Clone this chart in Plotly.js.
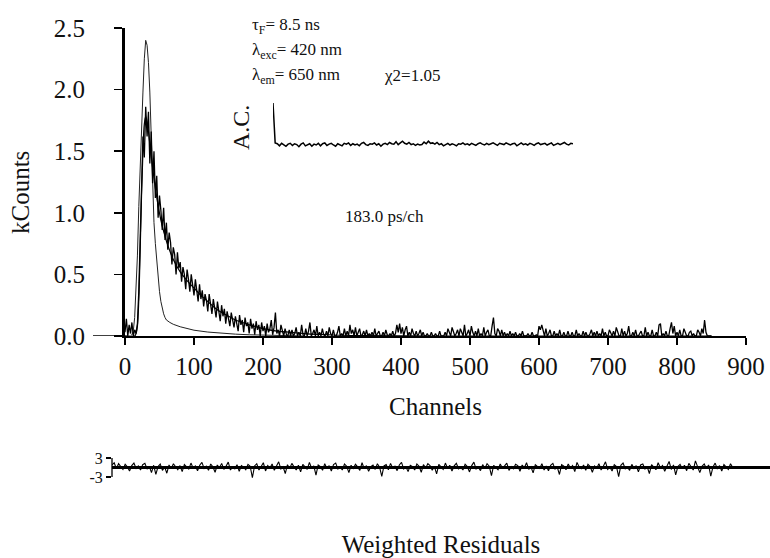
<!DOCTYPE html>
<html><head><meta charset="utf-8">
<script src="https://cdn.plot.ly/plotly-3.0.1.min.js"></script>
<style>body{margin:0;background:#fff}#chart{width:770px;height:558px}</style>
</head><body><div id="chart"></div>
<script>
const FONT = 'Liberation Serif';

// Decay (kCounts), one value every 2 channels from channel 0
const decayStart = 0, decayStep = 2;
const decayCounts = [
0.03,0.14,0.00,0.09,0.02,0.11,0.00,0.05,0.02,0.10,0.36,0.78,1.22,1.62,1.45,1.86,1.62,1.82,1.40,1.66,
1.24,1.50,1.12,1.30,0.96,1.14,1.02,0.86,1.04,0.78,0.92,0.70,0.84,0.76,0.58,0.72,0.66,0.50,0.68,0.55,
0.60,0.44,0.56,0.50,0.38,0.54,0.46,0.36,0.50,0.40,0.33,0.46,0.36,0.28,0.42,0.30,0.37,0.24,0.34,0.29,
0.20,0.34,0.26,0.18,0.30,0.22,0.15,0.28,0.19,0.12,0.25,0.16,0.22,0.10,0.20,0.14,0.08,0.19,0.12,0.07,
0.16,0.10,0.04,0.17,0.09,0.13,0.03,0.15,0.08,0.11,0.02,0.14,0.06,0.10,0.01,0.12,0.05,0.09,0.00,0.11,
0.04,0.08,0.00,0.10,0.03,0.06,0.13,0.01,0.07,0.19,0.02,0.05,0.00,0.09,0.03,0.00,0.06,0.01,0.00,0.05,
0.00,
0.05,0.00,0.02,0.07,0.00,0.03,0.00,0.09,0.01,0.00,0.06,0.00,0.04,0.11,0.00,0.02,0.05,0.00,0.08,0.00,
0.03,0.00,0.06,0.01,0.00,0.04,0.00,0.07,0.02,0.00,0.05,0.00,0.00,0.03,0.08,0.00,0.02,0.00,0.06,0.00,
0.04,0.00,0.09,0.02,0.05,0.00,0.07,0.00,0.03,0.06,0.00,0.01,0.04,0.00,0.05,0.00,0.02,0.00,0.03,0.00,
0.06,0.00,0.02,0.04,0.00,0.00,0.03,0.00,0.05,0.01,0.00,0.02,0.00,0.04,0.00,0.02,0.09,0.03,0.10,0.02,
0.07,0.00,0.05,0.08,0.00,0.03,0.00,0.06,0.02,0.00,0.04,0.00,0.02,0.05,0.00,0.03,0.00,0.00,0.02,0.00,
0.00,0.03,0.00,0.00,0.02,0.00,0.00,0.04,0.00,0.00,0.00,0.03,0.00,0.06,0.02,0.00,0.07,0.04,0.00,0.02,
0.05,0.00,0.06,0.03,0.00,0.09,0.00,0.02,0.05,0.00,0.08,0.03,0.00,0.04,0.00,0.06,0.00,0.02,0.00,0.07,
0.00,0.03,0.05,0.00,0.00,0.08,0.15,0.02,0.00,0.06,0.04,0.00,0.05,0.00,0.03,0.00,0.02,0.00,0.04,0.00,
0.02,0.00,0.03,0.00,0.00,0.02,0.00,0.04,0.00,0.00,0.00,0.02,0.00,0.00,0.03,0.00,0.00,0.01,0.00,0.08,
0.05,0.09,0.03,0.00,0.06,0.00,0.02,0.05,0.00,0.00,0.04,0.00,0.02,0.00,0.05,0.00,0.00,0.03,0.00,0.00,
0.04,0.00,0.00,0.03,0.00,0.00,0.05,0.00,0.02,0.00,0.00,0.04,0.00,0.03,0.00,0.00,0.02,0.05,0.00,0.03,
0.00,0.04,0.00,0.02,0.00,0.06,0.00,0.03,0.00,0.00,0.05,0.02,0.00,0.04,0.00,0.07,0.03,0.00,0.00,0.06,
0.00,0.04,0.00,0.02,0.08,0.00,0.00,0.03,0.00,0.05,0.00,0.00,0.02,0.04,0.00,0.00,0.07,0.00,0.03,0.00,
0.00,0.05,0.00,0.00,0.03,0.00,0.09,0.10,0.00,0.02,0.00,0.04,0.00,0.00,0.06,0.11,0.02,0.08,0.00,0.03,
0.00,0.05,0.00,0.00,0.06,0.02,0.00,0.00,0.03,0.04,0.00,0.02,0.00,0.00,0.05,0.03,0.00,0.06,0.02,0.13,
0.03,0.00,0.00,0.00,0.00
];

// Instrument response (lamp) profile
const irfChannels = [0,8,10,12,14,16,18,20,22,24,26,28,30,32,34,36,38,40,42,44,46,48,50,52,54,56,58,60,65,70,80,90,100,120,140,160,180,200,230,260];
const irfCounts   = [0,0,0.01,0.04,0.15,0.35,0.65,1.05,1.40,1.72,1.98,2.25,2.40,2.36,2.22,1.98,1.58,1.15,0.92,0.75,0.60,0.47,0.36,0.28,0.22,0.18,0.15,0.13,0.11,0.095,0.075,0.058,0.047,0.032,0.022,0.015,0.010,0.006,0.003,0];

// Fitted decay curve
const fitChannels = [0,14,16,18,20,22,24,26,28,30,32,34,36,38,40,44,48,52,56,60,70,80,90,100,110,120,130,140,150,160,170,180,190,200,220,240,260,280,300,350,400,450,850];
const fitCounts   = [0,0,0.02,0.08,0.30,0.70,1.15,1.50,1.72,1.78,1.74,1.66,1.56,1.46,1.37,1.20,1.06,0.94,0.85,0.77,0.62,0.52,0.45,0.39,0.33,0.28,0.23,0.19,0.16,0.13,0.11,0.09,0.075,0.06,0.04,0.03,0.02,0.013,0.008,0.003,0.001,0,0];

// Weighted residuals, one value every 3 channels
const residStep = 3;
const residuals = [
0.8,1.5,-0.4,1.2,0.3,-0.6,1.0,0.2,-1.1,0.6,1.4,-0.3,0.5,-0.8,0.9,1.3,-0.5,0.4,-1.6,0.7,
-2.2,0.3,1.1,-0.9,0.2,-1.8,0.8,-0.4,1.2,0.1,-0.7,0.6,-1.3,0.9,0.3,-0.5,1.4,-0.2,0.5,-1.0,
0.7,1.6,-0.3,0.4,-0.9,1.1,0.2,-1.5,0.8,-0.1,1.3,-0.6,0.4,1.7,-0.8,0.2,-0.4,0.9,-1.2,0.6,
0.1,-0.7,1.0,0.4,-3.2,0.5,1.2,-0.8,0.3,1.5,-1.1,0.6,-0.2,1.1,-0.9,0.4,1.8,-0.5,0.2,-1.9,
0.9,-0.3,1.3,0.2,-0.8,0.7,-1.4,1.0,0.1,-0.6,1.6,-0.2,0.5,-2.4,0.8,0.3,-0.9,1.2,-0.4,0.6,
-1.1,0.9,1.4,-0.5,0.2,-0.8,1.1,0.4,-1.6,0.7,-0.3,1.0,0.2,-0.9,1.5,-0.4,0.6,-1.2,0.3,0.8,
-0.6,1.2,0.1,-2.8,0.5,0.9,-0.7,1.3,-0.2,0.4,-1.0,0.8,1.6,-0.5,0.2,-1.3,0.7,0.3,-0.8,1.1,
0.4,-1.5,0.9,-0.2,1.2,0.6,-0.9,0.3,-2.0,1.0,0.2,-0.6,1.4,-0.3,0.7,-1.1,0.5,1.3,-0.4,0.1,
-0.8,1.0,0.3,-1.4,0.6,1.7,-0.5,0.2,-1.0,0.9,-0.3,1.2,0.4,-2.6,0.7,0.1,-0.7,1.1,-0.2,0.5,
1.4,-0.9,0.3,-0.4,1.0,0.6,-1.2,0.8,-0.1,1.5,-0.6,0.2,-1.7,0.9,0.4,-0.3,1.2,-0.8,0.5,-1.0,
0.7,1.3,-0.5,0.1,-2.2,0.9,0.4,-0.7,1.1,-0.2,0.6,-1.3,1.6,0.2,-0.4,0.8,-0.9,1.0,0.3,-1.5,
0.5,-0.2,1.2,-0.8,0.4,1.8,-0.6,0.1,-1.1,0.9,0.3,-2.9,0.7,1.4,-0.4,0.2,-0.9,1.0,-0.3,0.6,
-1.4,0.8,1.1,-0.5,0.3,-1.9,0.9,0.2,-0.7,1.5,-0.1,0.6,-1.2,0.4,1.9,-0.6,0.8,-2.3,0.3,1.0,
-0.4,0.7,-1.0,1.3,0.2,-0.8,2.1,0.5,-1.6,0.4,1.1,-0.3,0.8,-2.7,0.2,1.4,-0.5,0.6,-1.1,0.9,
0.3,-0.6,1.2,0.0
];

// Autocorrelation of residuals (inset)
const autoCorr = [
1.00,0.05,0.03,-0.02,0.04,0.00,-0.03,0.02,0.04,-0.01,0.03,0.01,-0.04,0.02,0.05,-0.02,0.01,0.03,-0.03,0.02,
0.00,0.04,-0.02,0.03,0.05,-0.01,0.02,0.04,0.00,-0.03,0.03,0.01,-0.02,0.04,0.02,0.05,-0.01,0.03,0.00,0.02,
-0.02,0.04,0.06,0.01,-0.01,0.03,0.02,0.05,0.00,0.03,-0.03,0.02,0.04,0.01,0.06,0.03,0.02,0.08,0.01,0.05,
0.09,0.04,0.02,0.06,0.01,0.03,-0.01,0.02,0.00,0.01,0.07,0.03,0.09,0.04,0.05,0.02,0.06,0.01,0.03,-0.02,
0.02,0.04,0.00,0.03,0.01,-0.02,0.03,0.02,0.05,0.01,0.03,0.00,0.04,0.02,-0.01,0.03,0.05,0.02,0.00,0.04,
0.01,0.03,0.05,0.02,-0.01,0.04,0.03,0.01,0.05,0.02,0.00,0.03,0.04,-0.02,0.02,0.05,0.01,0.03,0.00,0.04,
0.02,-0.01,0.03,0.05,0.01,0.02,0.04,0.00,0.03,0.05,-0.01,0.02,0.04,0.01,0.03,0.06,0.02,0.00,0.04,0.03
];

const xTicks = [0,100,200,300,400,500,600,700,800,900];
const yTicks = [0,0.5,1.0,1.5,2.0,2.5];
const resTicks = [-3,3];
const resTickText = ['-3','3'];

const W = 770, H = 558;
const px = v => v / W;
const py = v => 1 - v / H;

const traces = [
  {x: irfChannels, y: irfCounts, type: 'scatter', mode: 'lines', line: {color: '#222', width: 1}, xaxis: 'x', yaxis: 'y', hoverinfo: 'skip'},
  {x: fitChannels, y: fitCounts, type: 'scatter', mode: 'lines', line: {color: '#000', width: 1.2, shape: 'spline'}, xaxis: 'x', yaxis: 'y', hoverinfo: 'skip'},
  {x0: decayStart, dx: decayStep, y: decayCounts, type: 'scatter', mode: 'lines', line: {color: '#000', width: 1.3}, xaxis: 'x', yaxis: 'y', hoverinfo: 'skip'},
  {x0: 0, dx: residStep, y: residuals, type: 'scatter', mode: 'lines', line: {color: '#000', width: 1.1}, xaxis: 'x2', yaxis: 'y2', hoverinfo: 'skip'},
  {x0: 0, dx: 1, y: autoCorr, type: 'scatter', mode: 'lines', line: {color: '#000', width: 1.5}, xaxis: 'x3', yaxis: 'y3', hoverinfo: 'skip'}
];

const tickFont = {family: FONT, size: 25, color: '#111'};
const big = {family: FONT, size: 25, color: '#111'};
const small = {family: FONT, size: 17, color: '#111'};
const ann = (text, x, y, font, extra) => Object.assign({text, x: px(x), y: py(y), xref: 'paper', yref: 'paper', xanchor: 'center', yanchor: 'middle', showarrow: false, font}, extra || {});

const layout = {
  width: W, height: H,
  margin: {l: 0, r: 0, t: 0, b: 0},
  paper_bgcolor: '#fff', plot_bgcolor: 'rgba(0,0,0,0)',
  font: {family: FONT, color: '#111', size: 17},
  showlegend: false,
  xaxis: {domain: [px(125), px(746)], range: [0, 900], tickvals: xTicks, ticks: 'outside', ticklen: 7, tickwidth: 1.5, tickcolor: '#000',
          showline: true, linewidth: 2, linecolor: '#000', showgrid: false, zeroline: false, tickfont: tickFont, anchor: 'y', fixedrange: true,
          title: {text: 'Channels', font: big, standoff: 18}, automargin: false},
  yaxis: {domain: [py(336), py(28)], range: [0, 2.5], tickvals: yTicks, tickformat: '.1f', ticks: 'outside', ticklen: 8, tickwidth: 1.5, tickcolor: '#000',
          showline: true, linewidth: 3, linecolor: '#000', showgrid: false, zeroline: false, tickfont: tickFont, anchor: 'x', ticklabelstandoff: 24, fixedrange: true},
  xaxis2: {domain: [px(112), 1], range: [0, 900], anchor: 'y2', fixedrange: true, showticklabels: false, ticks: '', showline: false, showgrid: false, zeroline: false,
           title: {text: 'Weighted Residuals', font: big, standoff: 56}, automargin: false},
  yaxis2: {domain: [py(478.9), py(456.1)], range: [-3.6, 3.6], tickvals: resTicks, ticktext: resTickText, ticks: 'outside', ticklen: 5, tickwidth: 1.2, tickcolor: '#000',
           showline: false, showgrid: false, zeroline: true, zerolinewidth: 2.5, zerolinecolor: '#000', tickfont: {family: FONT, size: 16, color: '#111'}, anchor: 'x2', fixedrange: true},
  xaxis3: {domain: [px(273), px(573)], range: [0, 139], visible: false, anchor: 'y3', fixedrange: true},
  yaxis3: {domain: [py(149.2), py(103)], range: [-0.1, 1.0], visible: false, anchor: 'x3', fixedrange: true},
  shapes: [
    {type: 'line', xref: 'paper', yref: 'y', x0: px(93), x1: px(125), y0: 0, y1: 0, line: {color: '#000', width: 1.5}},
    {type: 'line', xref: 'paper', yref: 'y2', x0: px(112), x1: px(112), y0: -3, y1: 3, line: {color: '#000', width: 1.3}}
  ],
  annotations: [
    ann('kCounts', 20, 193, big, {textangle: -90}),
    ann('τ<sub>F</sub>= 8.5 ns', 250, 26, small, {xanchor: 'left'}),
    ann('λ<sub>exc</sub>= 420 nm', 250, 51, small, {xanchor: 'left'}),
    ann('λ<sub>em</sub>= 650 nm', 250, 76, small, {xanchor: 'left'}),
    ann('χ2=1.05', 382, 76, small, {xanchor: 'left'}),
    ann('183.0 ps/ch', 384, 216, small),
    ann('A.C.', 241, 128, {family: FONT, size: 24, color: '#111'}, {textangle: -90})
  ]
};

Plotly.newPlot('chart', traces, layout, {displayModeBar: false, staticPlot: true});
</script>
</body></html>
